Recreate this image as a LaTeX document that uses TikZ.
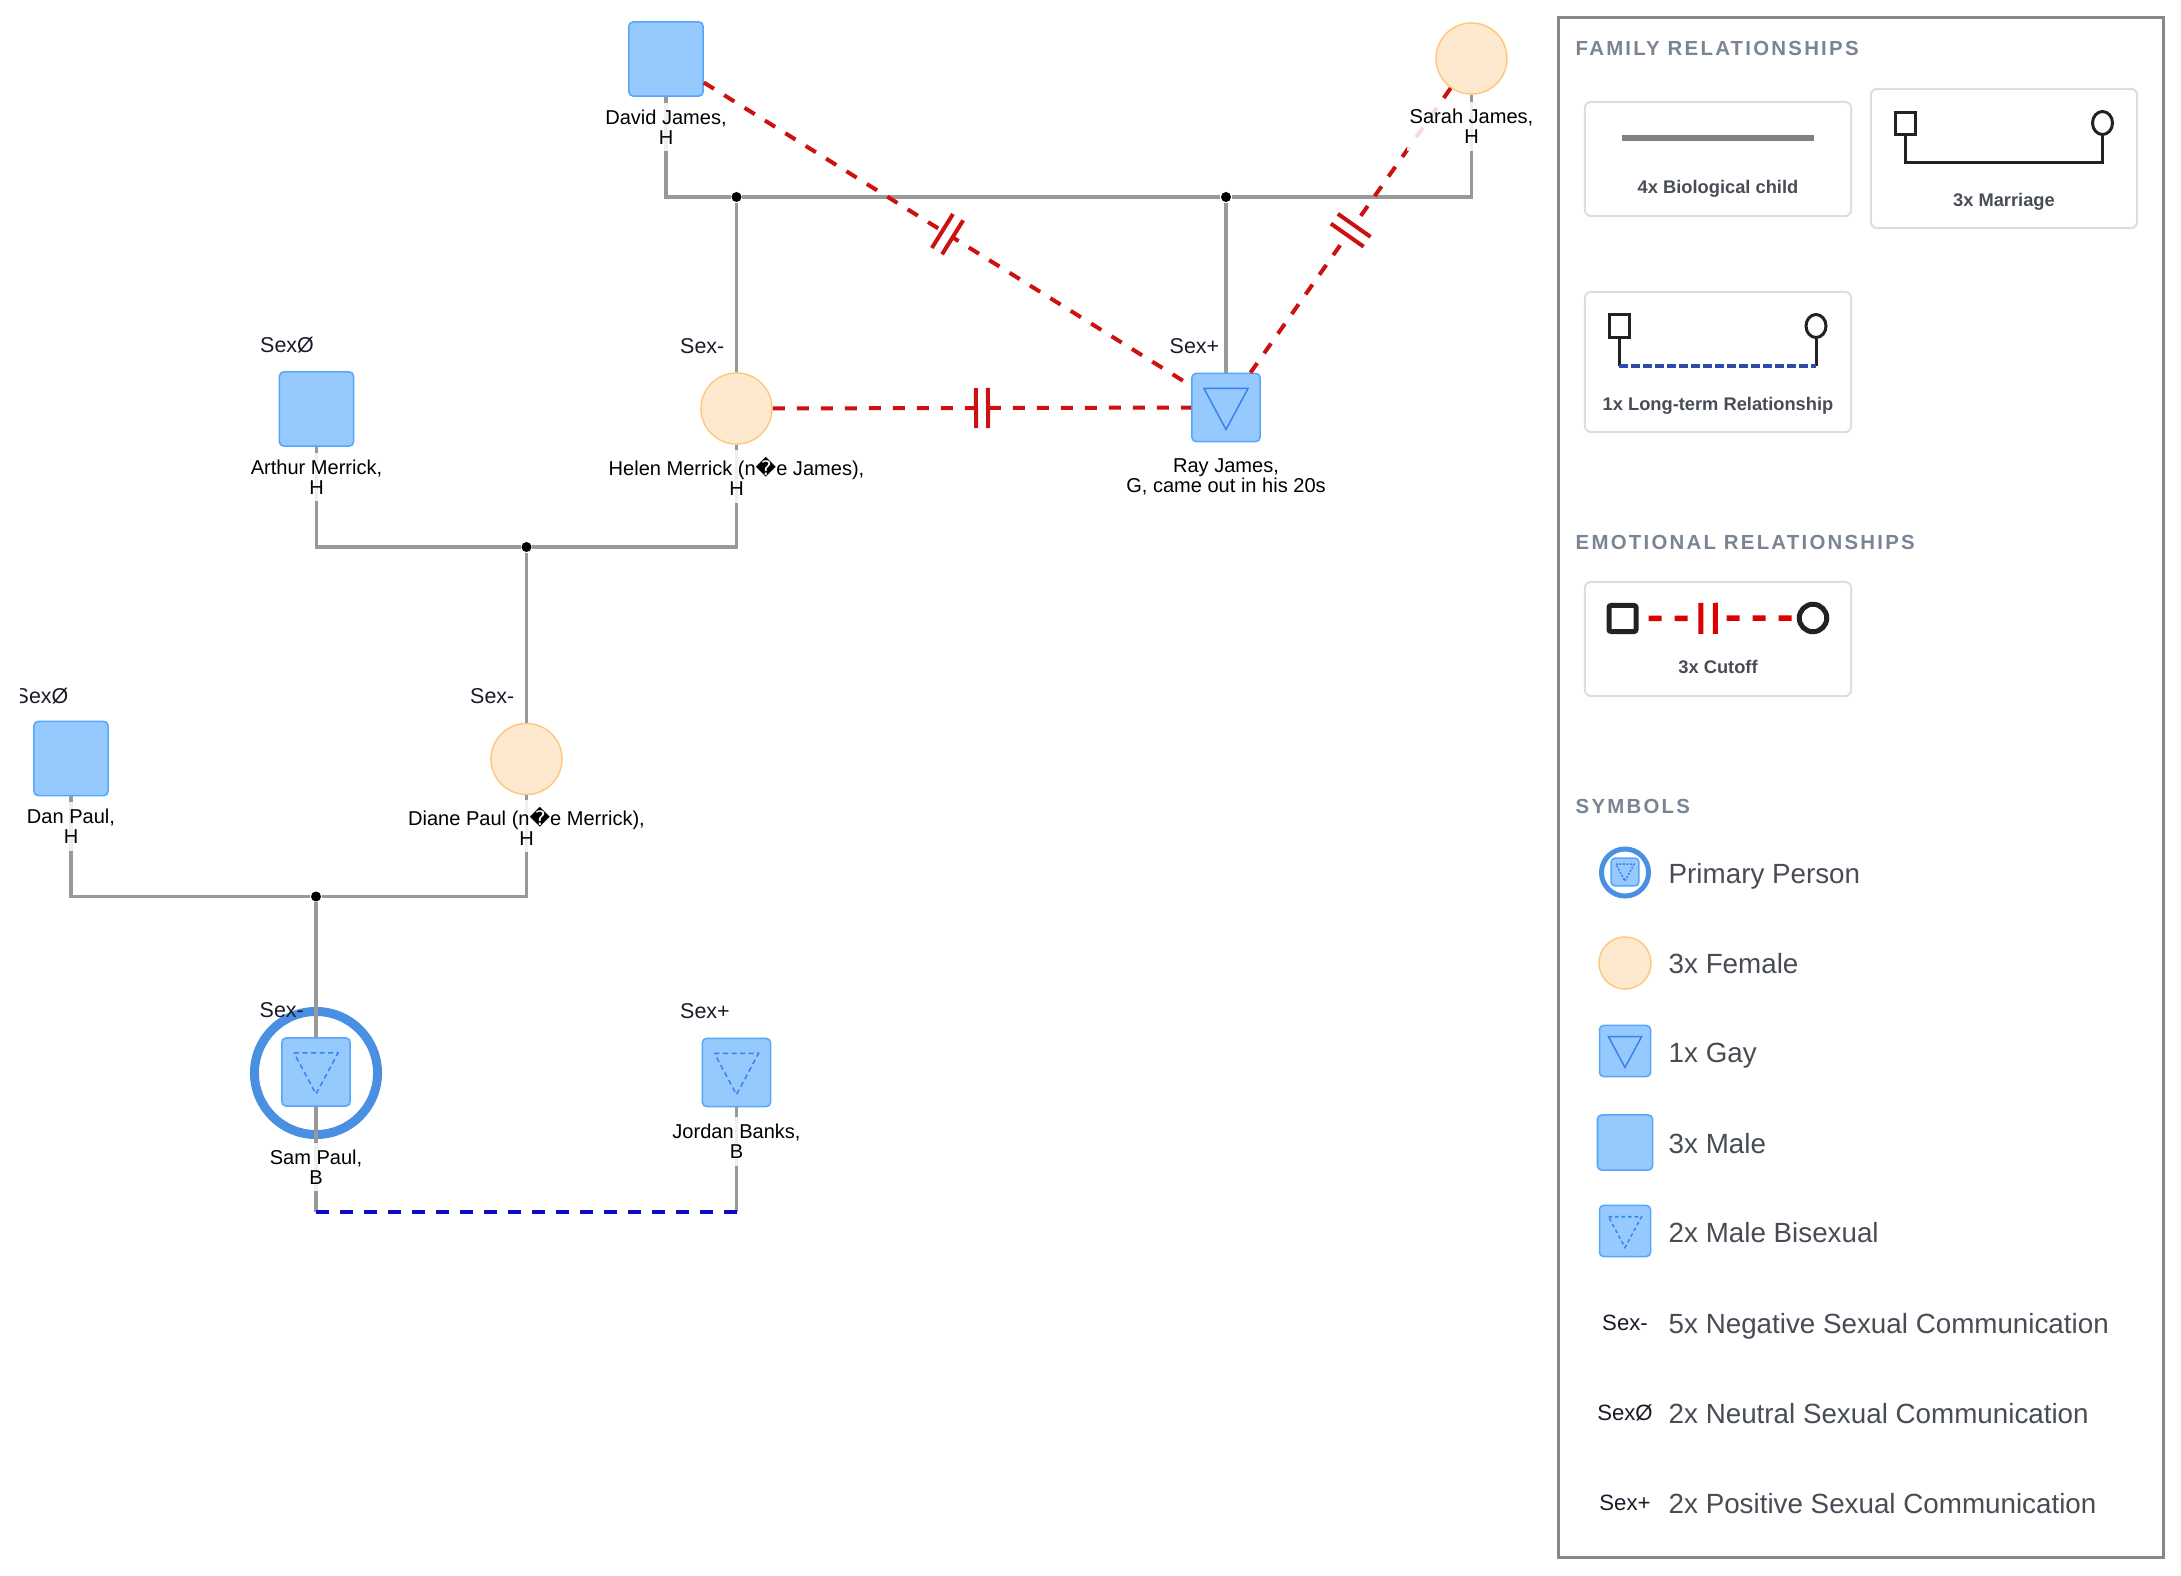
\documentclass[tikz,border=0pt]{standalone}
\usepackage{fontspec}
\setmainfont{Liberation Sans}
\newfontfamily\headfont[LetterSpace=11]{Liberation Sans}
\newfontfamily\repfont{DejaVu Sans}
\usetikzlibrary{positioning,calc,shapes.geometric,decorations.markings}

\definecolor{maleFill}{RGB}{150,202,255}
\definecolor{maleLine}{RGB}{85,165,250}
\definecolor{triLine}{RGB}{55,130,235}
\definecolor{femFill}{RGB}{255,233,206}
\definecolor{femLine}{RGB}{255,200,130}
\definecolor{ringBlue}{RGB}{74,144,226}
\definecolor{lineGray}{RGB}{153,153,153}
\definecolor{cutRed}{RGB}{204,17,17}
\definecolor{ltrBlue}{RGB}{10,10,200}
\definecolor{headGray}{RGB}{122,133,148}
\definecolor{cardText}{RGB}{72,77,85}
\definecolor{cardLine}{RGB}{221,221,221}
\definecolor{panelLine}{RGB}{136,136,136}
\definecolor{sexText}{RGB}{24,28,40}
\definecolor{iconBlack}{RGB}{34,34,34}
\definecolor{iconRed}{RGB}{221,0,0}
\definecolor{iconBlue}{RGB}{44,74,168}
\definecolor{bioGray}{RGB}{128,128,128}

\begin{document}
\begin{tikzpicture}[x=0.01cm, y=-0.01cm,
    male/.style={rectangle, rounded corners=0.04cm, draw=maleLine, fill=maleFill, line width=0.015cm, minimum size=#1, inner sep=0pt},
    male/.default=0.74cm,
    female/.style={circle, draw=femLine, fill=femFill, line width=0.015cm, minimum size=#1, inner sep=0pt},
    female/.default=0.71cm,
    biDash/.style={dash pattern=on 0.05cm off 0.035cm},
    gay/.style={male=#1*0.68cm, path picture={\draw[triLine, line width=0.015cm, sharp corners] ([xshift=-#1*0.22cm, yshift=#1*0.19cm]path picture bounding box.center) -- ([xshift=#1*0.22cm, yshift=#1*0.19cm]path picture bounding box.center) -- ([yshift=-#1*0.22cm]path picture bounding box.center) -- cycle;}},
    gay/.default=1,
    bi/.style={male=#1*0.68cm, path picture={\draw[triLine, line width=0.015cm, sharp corners, biDash] ([xshift=-#1*0.22cm, yshift=#1*0.19cm]path picture bounding box.center) -- ([xshift=#1*0.22cm, yshift=#1*0.19cm]path picture bounding box.center) -- ([yshift=-#1*0.22cm]path picture bounding box.center) -- cycle;}},
    bi/.default=1,
    primary/.style={circle, draw=ringBlue, line width=0.09cm, minimum size=1.23cm, inner sep=0pt},
    namelbl/.style={font=\fontsize{5.7pt}{5.7pt}\selectfont, align=center, fill=white, fill opacity=0.85, text opacity=1, inner xsep=0.03cm, inner ysep=0.07cm},
    sexlbl/.style={font=\fontsize{6.1pt}{6.1pt}\selectfont, text=sexText, anchor=west, inner sep=0pt, text height=4.4pt, text depth=0pt},
    jdot/.style={circle, fill=black, inner sep=0pt, minimum size=0.1cm},
    marriage/.style={draw=lineGray, line width=0.036cm},
    child/.style={draw=lineGray, line width=0.032cm},
    ltr/.style={draw=ltrBlue, line width=0.04cm, dash pattern=on 0.125cm off 0.115cm},
    cutoff/.style={draw=cutRed, line width=0.04cm, dash pattern=on 0.12cm off 0.12cm,
      postaction={decorate, decoration={markings, mark=at position 0.5 with {
        \fill[white] (-0.06cm,-0.03cm) rectangle (0.06cm,0.03cm);
        \draw[cutRed, solid, line width=0.04cm] (-0.06cm,-0.2cm) -- (-0.06cm,0.2cm) (0.06cm,-0.2cm) -- (0.06cm,0.2cm);}}}},
    panel/.style={draw=panelLine, line width=0.03cm, minimum width=6.04cm, minimum height=15.39cm, inner sep=0pt},
    card/.style={draw=cardLine, line width=0.02cm, rounded corners=0.06cm, minimum width=2.66cm, inner sep=0pt},
    head/.style={font=\headfont\bfseries\fontsize{5.8pt}{5.8pt}\selectfont, text=headGray, anchor=west, inner sep=0pt},
    cardlbl/.style={font=\bfseries\fontsize{5.2pt}{5.2pt}\selectfont, text=cardText, inner sep=0pt, text height=3.8pt, text depth=0pt},
    rowlbl/.style={font=\fontsize{7.9pt}{7.9pt}\selectfont, text=cardText, anchor=west, inner sep=0pt, text height=5.7pt, text depth=0pt},
    keysex/.style={font=\fontsize{6.3pt}{6.3pt}\selectfont, text=sexText, inner sep=0pt, text height=4.5pt, text depth=0pt},
    iconsq/.style={rectangle, draw=iconBlack, line width=0.03cm, minimum width=0.2cm, minimum height=0.22cm, inner sep=0pt},
    iconci/.style={ellipse, draw=iconBlack, line width=0.03cm, minimum width=0.2cm, minimum height=0.23cm, inner sep=0pt},
    iconln/.style={draw=iconBlack, line width=0.03cm},
    cutIcon/.style={draw=iconRed, line width=0.055cm, dash pattern=on 0.13cm off 0.13cm, dash phase=0.16cm,
      postaction={decorate, decoration={markings, mark=at position 0.44 with {
        \fill[white] (-0.072cm,-0.04cm) rectangle (0.072cm,0.04cm);
        \draw[iconRed, solid, line width=0.05cm] (-0.072cm,-0.155cm) -- (-0.072cm,0.155cm) (0.072cm,-0.155cm) -- (0.072cm,0.155cm);}}}},
  ]
  \useasboundingbox (0,0) rectangle (2181,1576);

  % people
  \node[male] (david) at (666,59) {};
  \node[female] (sarah) at (1471.5,58.5) {};
  \node[male] (arthur) at (316.5,409) {};
  \node[female] (helen) at (736.5,408.5) {};
  \node[gay] (ray) at (1226,407.5) {};
  \node[male] (dan) at (71,758.5) {};
  \node[female] (diane) at (526.5,759) {};
  \node[primary] (samRing) at (316,1073) {};
  \node[bi] (sam) at (316,1072) {};
  \node[bi] (jordan) at (736.5,1072.5) {};

  \node[jdot] (djHelen) at (736.5,197) {};
  \node[jdot] (djRay) at (1226,197) {};
  \node[jdot] (ahDiane) at (526.5,547) {};
  \node[jdot] (dpSam) at (316,896.5) {};
  \coordinate (ltL) at (316,1212);
  \coordinate (ltR) at (736.5,1212);

  % relationships
  \draw[marriage] (david) |- (djHelen) -- (djRay) -| (sarah);
  \draw[child] (djHelen) -- (helen);
  \draw[child] (djRay) -- (ray);
  \draw[marriage] (arthur) |- (ahDiane) -| (helen);
  \draw[child] (ahDiane) -- (diane);
  \draw[marriage] (dan) |- (dpSam) -| (diane);
  \draw[child] (dpSam) -- (sam);
  \draw[child] (sam) -- (ltL);
  \draw[child] (jordan) -- (ltR);
  \draw[ltr] (ltL) -- (ltR);
  \draw[cutoff] (david) -- (ray);
  \draw[cutoff] (sarah) -- (ray);
  \draw[cutoff] (helen) -- (ray);

  % labels
  \node[namelbl] (davidN) at ($(david)+(0,68)$) {David James,\\H};
  \node[namelbl] (sarahN) at ($(sarah)+(0,68)$) {Sarah James,\\H};
  \node[namelbl] (arthurN) at ($(arthur)+(0,68)$) {Arthur Merrick,\\H};
  \node[namelbl] (helenN) at ($(helen)+(0,68)$) {Helen Merrick (n{\repfont �}e James),\\H};
  \node[namelbl] (rayN) at ($(ray)+(0,69)$) {Ray James,\\G, came out in his 20s};
  \node[namelbl] (danN) at ($(dan)+(0,68)$) {Dan Paul,\\H};
  \node[namelbl] (dianeN) at ($(diane)+(0,67)$) {Diane Paul (n{\repfont �}e Merrick),\\H};
  \node[namelbl] (samN) at ($(sam)+(0,95)$) {Sam Paul,\\B};
  \node[namelbl] (jordanN) at ($(jordan)+(0,69)$) {Jordan Banks,\\B};

  \node[sexlbl] (arthurS) at ($(arthur)+(-57,-64)$) {SexØ};
  \node[sexlbl] (helenS) at ($(helen)+(-57,-63)$) {Sex-};
  \node[sexlbl] (rayS) at ($(ray)+(-57,-62)$) {Sex+};
  \begin{scope}
    \clip (20,600) rectangle (200,800);
    \node[sexlbl] (danS) at ($(dan)+(-57,-63)$) {SexØ};
  \end{scope}
  \node[sexlbl] (dianeS) at ($(diane)+(-57,-63)$) {Sex-};
  \node[sexlbl] (samS) at ($(sam)+(-57,-62)$) {Sex-};
  \node[sexlbl] (jordanS) at ($(jordan)+(-57,-62)$) {Sex+};

  % legend
  \node[panel] (legend) at (1861,787.5) {};
  \node[head] (famHead) at (1575,48) {FAMILY RELATIONSHIPS};
  \node[head] (emoHead) at (1575,542) {EMOTIONAL RELATIONSHIPS};
  \node[head] (symHead) at (1575,806) {SYMBOLS};

  \node[card, minimum height=1.14cm] (bioCard) at (1718,159) {};
  \node[card, minimum height=1.39cm] (marCard) at (2004,158.5) {};
  \node[card, minimum height=1.40cm] (ltrCard) at (1718,362) {};
  \node[card, minimum height=1.14cm] (cutCard) at (1718,639) {};

  \coordinate (bioL) at (1622,138);
  \coordinate (bioR) at (1813.5,138);
  \draw[bioGray, line width=0.06cm] (bioL) -- (bioR);
  \node[cardlbl] (bioLbl) at (1718,187) {4x Biological child};

  \node[iconsq] (marSq) at (1905,123.5) {};
  \node[iconci] (marCi) at (2102.5,123) {};
  \coordinate (marMid) at (2004,163);
  \draw[iconln] (marSq) |- (marMid) -| (marCi);
  \node[cardlbl] (marLbl) at (2004,200) {3x Marriage};

  \node[iconsq] (ltrSq) at (1619,326) {};
  \node[iconci] (ltrCi) at (1816,326) {};
  \coordinate (ltrL) at (1619,366);
  \coordinate (ltrR) at (1816,366);
  \draw[iconln] (ltrSq) -- (ltrL);
  \draw[iconln] (ltrCi) -- (ltrR);
  \draw[iconBlue, line width=0.03cm, dash pattern=on 0.085cm off 0.035cm] (ltrL) -- (ltrR);
  \node[cardlbl] (ltrLbl) at (1718,404) {1x Long-term Relationship};

  \node[iconsq, rounded corners=0.02cm, line width=0.05cm, minimum width=0.27cm, minimum height=0.26cm] (cutSq) at (1622.5,618.5) {};
  \node[circle, draw=iconBlack, line width=0.05cm, minimum size=0.275cm, inner sep=0pt] (cutCi) at (1813,618) {};
  \draw[cutIcon] (cutSq) -- (cutCi);
  \node[cardlbl] (cutLbl) at (1718,667) {3x Cutoff};

  \node[primary, line width=0.05cm, minimum size=0.47cm] (keyPrim) at (1625,872.5) {};
  \node[bi=0.41, biDash/.style={dash pattern=on 0.02cm off 0.015cm}] (keyPrimSq) at (1625,872) {};
  \node[female=0.52cm] (keyFem) at (1625,963) {};
  \node[gay=0.75] (keyGay) at (1625,1051) {};
  \node[male=0.55cm] (keyMale) at (1625,1142.5) {};
  \node[bi=0.75, biDash/.style={dash pattern=on 0.035cm off 0.03cm}] (keyBi) at (1625,1231) {};
  \node[keysex] (keySexN) at (1625,1323) {Sex-};
  \node[keysex] (keySexZ) at (1625,1413) {SexØ};
  \node[keysex] (keySexP) at (1625,1503) {Sex+};

  \node[rowlbl] (primTxt) at (1668,873) {Primary Person};
  \node[rowlbl] (femTxt) at (1668,963) {3x Female};
  \node[rowlbl] (gayTxt) at (1668,1052) {1x Gay};
  \node[rowlbl] (maleTxt) at (1668,1143) {3x Male};
  \node[rowlbl] (biTxt) at (1668,1232) {2x Male Bisexual};
  \node[rowlbl] (negTxt) at (1668,1323) {5x Negative Sexual Communication};
  \node[rowlbl] (neuTxt) at (1668,1413) {2x Neutral Sexual Communication};
  \node[rowlbl] (posTxt) at (1668,1503) {2x Positive Sexual Communication};
\end{tikzpicture}
\end{document}
